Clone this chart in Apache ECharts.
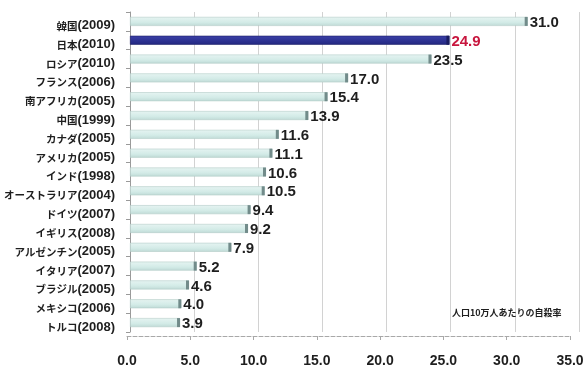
<!DOCTYPE html>
<html>
<head>
<meta charset="utf-8">
<script src="https://cdn.jsdelivr.net/npm/echarts@6/dist/echarts.min.js"></script>
<style>
  html, body { margin: 0; padding: 0; background: #fff; }
  #main { width: 588px; height: 368px; }
</style>
</head>
<body>
<div id="main"></div>
<script>
// 国名(年)
const countries = [
  '韓国(2009)', '日本(2010)', 'ロシア(2010)', 'フランス(2006)',
  '南アフリカ(2005)', '中国(1999)', 'カナダ(2005)', 'アメリカ(2005)',
  'インド(1998)', 'オーストラリア(2004)', 'ドイツ(2007)', 'イギリス(2008)',
  'アルゼンチン(2005)', 'イタリア(2007)', 'ブラジル(2005)', 'メキシコ(2006)',
  'トルコ(2008)'
];
// 人口10万人あたりの自殺率
const rates = [31.0, 24.9, 23.5, 17.0, 15.4, 13.9, 11.6, 11.1, 10.6, 10.5, 9.4, 9.2, 7.9, 5.2, 4.6, 4.0, 3.9];
const highlight = '日本(2010)';
const xTicks = [0, 5, 10, 15, 20, 25, 30, 35];

const chartDom = document.getElementById('main');
const myChart = echarts.init(chartDom);

const lightBar = new echarts.graphic.LinearGradient(0, 0, 0, 1, [
  { offset: 0, color: '#e6f4f2' },
  { offset: 0.6, color: '#d3ebe7' },
  { offset: 1, color: '#bfdad6' }
]);
const darkBar = new echarts.graphic.LinearGradient(0, 0, 0, 1, [
  { offset: 0, color: '#3b40a8' },
  { offset: 1, color: '#222780' }
]);

const barData = rates.map((v, i) => {
  const isJp = countries[i] === highlight;
  return {
    value: v,
    itemStyle: {
      color: isJp ? darkBar : lightBar,
      borderColor: isJp ? '#1c1f66' : '#b3ccc8',
      borderWidth: 0.6
    },
    label: { color: isJp ? '#c8163e' : '#1e1e1e' }
  };
});
const capData = rates.map((v, i) => ({
  value: v,
  itemStyle: { color: countries[i] === highlight ? '#191c60' : '#728b8a' }
}));

let option = {
  animation: false,
  title: {
    text: '人口10万人あたりの自殺率',
    left: 447,
    top: 303,
    textStyle: {
      fontFamily: 'Noto Sans CJK JP',
      fontSize: 9,
      fontWeight: 'bold',
      color: '#1e1e1e'
    }
  },
  grid: [
    { left: 130, right: 9, top: 12, bottom: 36 },
    { left: 127, right: 18, top: 12, bottom: 30 }
  ],
  xAxis: [
    {
      gridIndex: 0,
      type: 'value',
      min: xTicks[0],
      max: xTicks[xTicks.length - 1],
      interval: 5,
      axisLine: { show: false },
      axisTick: { show: false },
      axisLabel: { show: false },
      splitLine: { show: true, lineStyle: { color: '#d2d2d2', width: 1 } }
    },
    {
      gridIndex: 1,
      type: 'value',
      min: xTicks[0],
      max: xTicks[xTicks.length - 1],
      interval: 5,
      axisLine: { show: true, lineStyle: { color: '#a8a8a8', type: 'dashed', width: 1 } },
      axisTick: { show: true, length: 4, lineStyle: { color: '#a8a8a8' } },
      splitLine: { show: false },
      axisLabel: {
        margin: 18,
        fontFamily: 'Liberation Sans',
        fontSize: 14,
        fontWeight: 'bold',
        color: '#1e1e1e',
        formatter: v => v.toFixed(1)
      }
    }
  ],
  yAxis: [
    {
      gridIndex: 0,
      type: 'category',
      inverse: true,
      data: countries,
      axisLine: { show: true, lineStyle: { color: '#9a9a9a' } },
      axisTick: { show: true, length: 4, lineStyle: { color: '#9a9a9a' } },
      axisLabel: {
        margin: 15,
        padding: [9, 0, 0, 0],
        color: '#1e1e1e',
        formatter: v => {
          const k = v.indexOf('(');
          return '{n|' + v.slice(0, k) + '}{y|(' + v.slice(k + 1, -1) + ')}';
        },
        rich: {
          n: {
            fontFamily: 'Noto Sans CJK JP',
            fontSize: 10.5,
            fontWeight: 'bold',
            color: '#1e1e1e'
          },
          y: {
            fontFamily: 'Liberation Sans',
            fontSize: 13,
            fontWeight: 'bold',
            color: '#1e1e1e'
          }
        }
      }
    },
    {
      gridIndex: 1,
      type: 'category',
      data: countries,
      show: false
    }
  ],
  series: [
    {
      name: 'rate',
      type: 'bar',
      xAxisIndex: 0,
      yAxisIndex: 0,
      barWidth: 9,
      data: barData,
      label: {
        show: true,
        position: 'right',
        distance: 2,
        offset: [0, 1.5],
        fontFamily: 'Liberation Sans',
        fontSize: 15,
        fontWeight: 'bold',
        formatter: p => p.value.toFixed(1)
      },
      z: 2
    },
    {
      name: 'cap',
      type: 'pictorialBar',
      xAxisIndex: 0,
      yAxisIndex: 0,
      barWidth: 9,
      barGap: '-100%',
      symbol: 'rect',
      symbolSize: [3, 9],
      symbolPosition: 'end',
      data: capData,
      silent: true,
      z: 3
    }
  ]
};

option && myChart.setOption(option);
</script>
</body>
</html>
